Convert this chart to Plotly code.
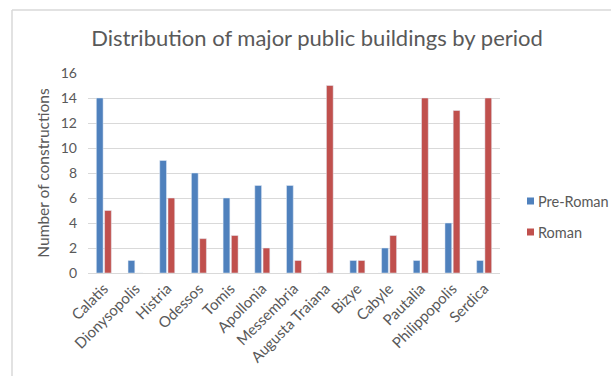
import plotly.graph_objects as go

categories = ["Calatis", "Dionysopolis", "Histria", "Odessos", "Tomis", "Apollonia",
              "Messembria", "Augusta Traiana", "Bizye", "Cabyle", "Pautalia",
              "Philippopolis", "Serdica"]
pre_roman = [14, 1, 9, 8, 6, 7, 7, 0, 1, 2, 1, 4, 1]
roman = [5, 0, 6, 2.75, 3, 2, 1, 15, 1, 3, 14, 13, 14]
y_ticks = [0, 2, 4, 6, 8, 10, 12, 14, 16]
series_names = ["Pre-Roman", "Roman"]
series_colors = ["#4F81BD", "#C0504D"]

W, H = 611, 376
ml, mr, mt, mb = 88, 111, 73, 103
pw, ph = W - ml - mr, H - mt - mb


def px_x(p):
    return (p - ml) / pw


def px_y(p):
    return (H - mb - p) / ph


font = "Lato"
gray = "#595959"

fig = go.Figure()
for name, vals, col in zip(series_names, [pre_roman, roman], series_colors):
    fig.add_trace(go.Bar(x=categories, y=vals, name=name, marker_color=col,
                         showlegend=False))

fig.update_layout(
    width=W, height=H,
    margin=dict(l=ml, r=mr, t=mt, b=mb, autoexpand=False),
    paper_bgcolor="white", plot_bgcolor="white",
    font=dict(family=font, color=gray, size=14),
    barmode="group", bargap=0.48, bargroupgap=0.18,
    title=dict(text="Distribution of major public buildings by period",
               x=px_x(317), xref="paper", xanchor="center",
               y=1 - 38 / H, yanchor="middle",
               font=dict(family=font, size=22, color=gray)),
)
fig.update_yaxes(range=[0, 16], tickvals=y_ticks, showgrid=True,
                 gridcolor="#D9D9D9", gridwidth=1, zeroline=False,
                 showline=False, ticks="", ticklabelstandoff=10,
                 automargin=False,
                 tickfont=dict(family=font, size=14, color=gray),
                 title=dict(text="Number of constructions", standoff=7,
                            font=dict(family=font, size=15.5, color=gray)))
fig.update_xaxes(tickangle=-45, showline=True, linecolor="#D9D9D9",
                 linewidth=1, ticks="", showgrid=False, automargin=False,
                 tickfont=dict(family=font, size=15, color=gray))

# chart frame (left and top edges visible)
fig.add_shape(type="line", xref="paper", yref="paper",
              x0=px_x(12), x1=px_x(12), y0=px_y(10), y1=px_y(H + 5),
              line=dict(color="#D9D9D9", width=1.5))
fig.add_shape(type="line", xref="paper", yref="paper",
              x0=px_x(12), x1=px_x(W + 5), y0=px_y(10), y1=px_y(10),
              line=dict(color="#D9D9D9", width=1.5))

# legend
legend_y = [201, 232]
for name, col, yc in zip(series_names, series_colors, legend_y):
    fig.add_shape(type="rect", xref="paper", yref="paper",
                  x0=px_x(527), x1=px_x(534), y0=px_y(yc - 3.5), y1=px_y(yc + 3.5),
                  fillcolor=col, line=dict(width=0))
    fig.add_annotation(text=name, xref="paper", yref="paper",
                       x=px_x(535.5), y=px_y(yc), xanchor="left", yanchor="middle",
                       showarrow=False, font=dict(family=font, size=14.5, color=gray))

fig.write_html("out.html")
